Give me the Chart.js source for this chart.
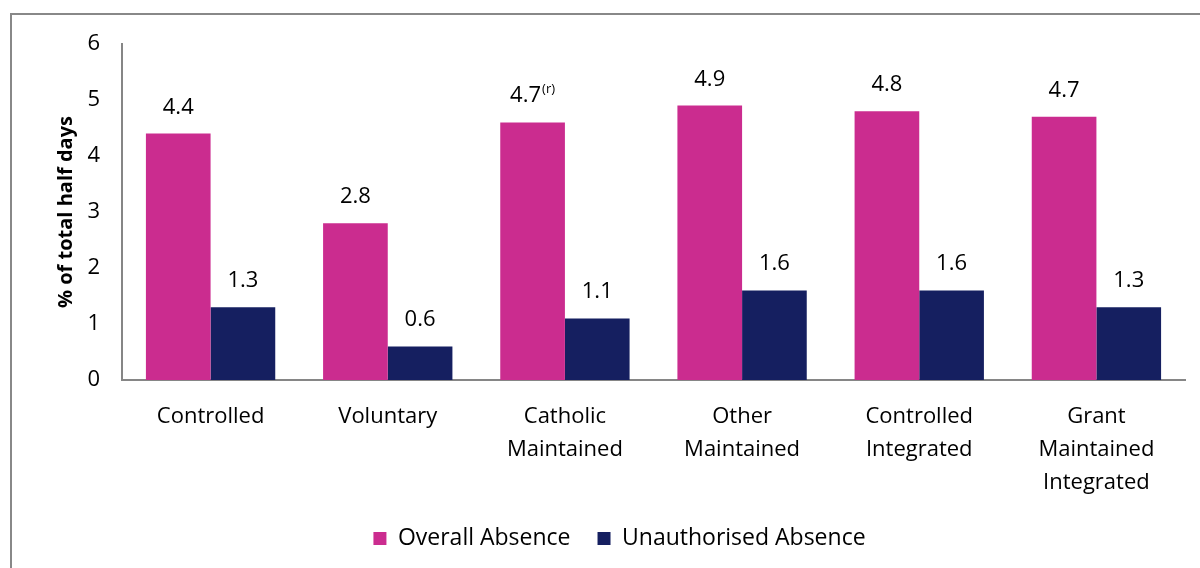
<!DOCTYPE html>
<html><head><meta charset="utf-8">
<script src="https://cdn.jsdelivr.net/npm/chart.js@4.4.1/dist/chart.umd.min.js"></script>
<style>
html,body{margin:0;padding:0;background:#fff;}
#wrap{position:relative;width:1200px;height:568px;overflow:hidden;}
#frame{position:absolute;left:10px;top:13px;width:1400px;height:800px;border:2px solid #888;box-sizing:border-box;pointer-events:none;}
canvas{position:absolute;left:0;top:0;}
</style></head>
<body><div id="wrap"><canvas id="c" width="1200" height="568"></canvas><div id="frame"></div></div>
<script>
const categories = [["Controlled"],["Voluntary"],["Catholic","Maintained"],["Other","Maintained"],["Controlled","Integrated"],["Grant","Maintained","Integrated"]];
const overallAbsence = [4.4, 2.8, 4.6, 4.9, 4.8, 4.7];
const overallLabels = ["4.4","2.8","4.7","4.9","4.8","4.7"];
const overallNotes = ["","","(r)","","",""];
const unauthorisedAbsence = [1.3, 0.6, 1.1, 1.6, 1.6, 1.3];
const unauthorisedLabels = ["1.3","0.6","1.1","1.6","1.6","1.3"];
const unauthorisedNotes = ["","","","","",""];
const yTicks = [0,1,2,3,4,5,6];

const FONT = "'Open Sans', Lato, sans-serif";
const labelsPlugin = {
  id:'barLabels',
  afterDatasetsDraw(chart){
    const ctx = chart.ctx;
    const sets = [[overallLabels, overallNotes],[unauthorisedLabels, unauthorisedNotes]];
    chart.data.datasets.forEach((ds,i)=>{
      const meta = chart.getDatasetMeta(i);
      meta.data.forEach((bar,j)=>{
        const main = sets[i][0][j], note = sets[i][1][j];
        ctx.save();
        ctx.fillStyle = '#000';
        ctx.textBaseline = 'alphabetic';
        ctx.font = "22px " + FONT;
        const w1 = ctx.measureText(main).width;
        ctx.font = "13px " + FONT;
        const w2 = note ? ctx.measureText(note).width + 1 : 0;
        const x0 = bar.x - (w1 + w2)/2;
        const y = bar.y - 20;
        ctx.font = "22px " + FONT;
        ctx.textAlign = 'left';
        ctx.fillText(main, x0, y);
        if(note){ ctx.font = "13px " + FONT; ctx.fillText(note, x0 + w1 + 1, y - 9); }
        ctx.restore();
      });
    });
  }
};

new Chart(document.getElementById('c'), {
  type:'bar',
  data:{
    labels: categories,
    datasets:[
      {label:'Overall Absence', data: overallAbsence, backgroundColor:'#CB2C8F', categoryPercentage:0.73, barPercentage:1},
      {label:'Unauthorised Absence', data: unauthorisedAbsence, backgroundColor:'#151F60', categoryPercentage:0.73, barPercentage:1}
    ]
  },
  options:{
    responsive:false, animation:false, devicePixelRatio:1,
    layout:{padding:{left:54,right:15,top:44,bottom:8}},
    plugins:{
      legend:{position:'bottom', labels:{boxWidth:13, boxHeight:13, font:{size:23, family:FONT}, color:'#000', padding:27}},
      tooltip:{enabled:false}
    },
    scales:{
      x:{
        grid:{display:false, drawTicks:false},
        border:{color:'#868686', width:2},
        afterFit(s){ s.height = 120; },
        ticks:{font:{size:22, family:FONT, lineHeight:1.5}, color:'#000', padding:20, maxRotation:0, autoSkip:false}
      },
      y:{
        min:0, max:6,
        afterBuildTicks(s){ s.ticks = yTicks.map(v=>({value:v})); },
        afterFit(s){ s.width = 68; },
        grid:{display:false, drawTicks:false},
        border:{color:'#868686', width:2},
        ticks:{font:{size:22, family:FONT}, color:'#000', padding:22},
        title:{display:true, text:'% of total half days', font:{size:20, weight:'bold', family:FONT}, color:'#000', padding:{top:0,bottom:0}}
      }
    }
  },
  plugins:[labelsPlugin]
});
</script></body></html>
